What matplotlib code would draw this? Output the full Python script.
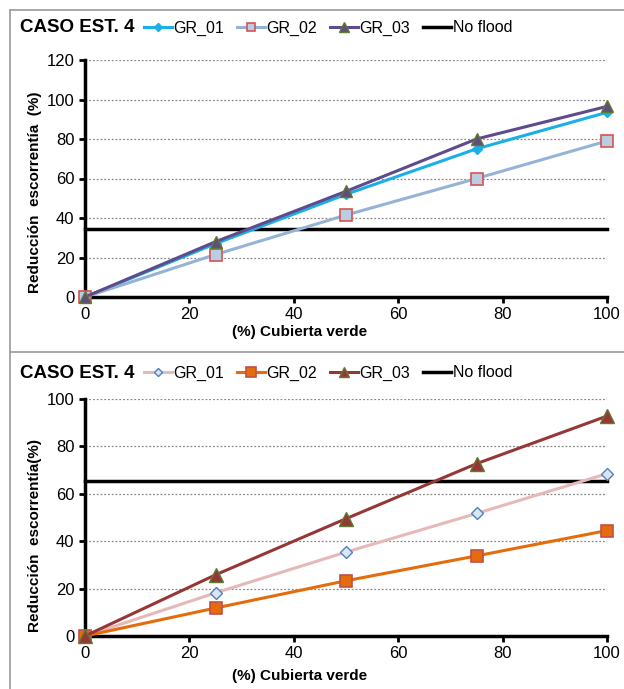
import matplotlib
matplotlib.use("Agg")
import matplotlib.pyplot as plt
from matplotlib.lines import Line2D

plt.rcParams['font.family'] = ['Liberation Sans', 'DejaVu Sans']

x = [0, 25, 50, 75, 100]
series_names = ["GR_01", "GR_02", "GR_03"]

top_gr01 = [0, 27, 52, 75, 93.5]
top_gr02 = [0, 21.5, 41.5, 60, 79]
top_gr03 = [0, 28, 53.5, 80, 96.5]
top_noflood = 34.5

bot_gr01 = [0, 18.2, 35.4, 51.7, 68.5]
bot_gr02 = [0, 11.8, 23.3, 33.8, 44.5]
bot_gr03 = [0, 25.8, 49.5, 72.7, 92.8]
bot_noflood = 65.5

title = "CASO EST. 4"
xlabel = "(%) Cubierta verde"
ylabel_top = "Reducción  escorrentía  (%)"
ylabel_bot = "Reducción  escorrentía(%)"

fig = plt.figure(figsize=(6.24, 6.89), dpi=100)

W, H = 624, 689
def fx(px): return px / W
def fy(py): return 1 - py / H

ax1 = fig.add_axes([fx(85), fy(297), fx(607) - fx(85), fy(60) - fy(297)])
ax2 = fig.add_axes([fx(85), fy(636), fx(607) - fx(85), fy(399) - fy(636)])

top_styles = [
    dict(color="#1AAFE6", marker="D", markersize=5, markerfacecolor="#1AAFE6", markeredgecolor="#1AAFE6", lw=2.2),
    dict(color="#95B3D7", marker="s", markersize=8, markerfacecolor="#B9CDE5", markeredgecolor="#D9534F", markeredgewidth=1.2, lw=2.2),
    dict(color="#5F4B8B", marker="^", markersize=9, markerfacecolor="#5E4E78", markeredgecolor="#5F7A35", markeredgewidth=1.0, lw=2.2),
]
bot_styles = [
    dict(color="#E6B9B8", marker="D", markersize=6, markerfacecolor="#DCE6F2", markeredgecolor="#4F81BD", markeredgewidth=1.0, lw=2.2),
    dict(color="#E46C0A", marker="s", markersize=9, markerfacecolor="#E46C0A", markeredgecolor="#C0504D", markeredgewidth=1.2, lw=2.2),
    dict(color="#953735", marker="^", markersize=10, markerfacecolor="#953735", markeredgecolor="#5F7A35", markeredgewidth=1.0, lw=2.2),
]

def style_ax(ax, ymax, ystep, noflood, data, styles, ylabel, ylab_center_px, xlab_px):
    handles = []
    for name, vals, st in zip(series_names, data, styles):
        h, = ax.plot(x, vals, label=name, zorder=3, **st)
        handles.append(h)
    ax.axhline(noflood, color="black", lw=2.5, zorder=2, label="No flood")
    handles.append(Line2D([], [], color="black", lw=2.5))
    ax.set_xlim(0, 100)
    ax.set_ylim(0, ymax)
    ax.set_xticks(range(0, 101, 20))
    ax.set_yticks(range(0, ymax + 1, ystep))
    ax.yaxis.grid(True, linestyle=(0, (1.5, 1.5)), color="#888888", lw=0.9)
    ax.set_axisbelow(True)
    for s in ["top", "right"]:
        ax.spines[s].set_visible(False)
    for s in ["left", "bottom"]:
        ax.spines[s].set_linewidth(2.5)
        ax.spines[s].set_color("black")
    ax.tick_params(axis="both", labelsize=12, colors="black", width=2, length=4, direction="out")
    ax.tick_params(axis="x", pad=3)
    ax.set_xlabel(xlabel, fontsize=11, fontweight="bold", va="center")
    ax.set_ylabel(ylabel, fontsize=11, fontweight="bold", va="center")
    bb = ax.get_position()
    ax.xaxis.set_label_coords((fx(300) - bb.x0) / bb.width, (fy(xlab_px) - bb.y0) / bb.height)
    ax.yaxis.set_label_coords((fx(35) - bb.x0) / bb.width, (fy(ylab_center_px) - bb.y0) / bb.height)
    for l in ax.lines:
        l.set_clip_on(False)
    return handles

h1 = style_ax(ax1, 120, 20, top_noflood, [top_gr01, top_gr02, top_gr03], top_styles, ylabel_top, 192, 332)
h2 = style_ax(ax2, 100, 20, bot_noflood, [bot_gr01, bot_gr02, bot_gr03], bot_styles, ylabel_bot, 536, 676)

labels = series_names + ["No flood"]
for hs, ytitle in [(h1, 28), (h2, 373)]:
    fig.text(fx(20), fy(ytitle), title, fontsize=13.5, fontweight="bold", va="center", ha="left")
    fig.legend(hs, labels, loc="center left", bbox_to_anchor=(fx(144), fy(ytitle)), ncol=4,
               frameon=False, fontsize=11.5, handlelength=1.75, handletextpad=0.1,
               columnspacing=0.8, borderaxespad=0, borderpad=0, markerscale=0.75)

# frame lines
gray = "#9A9A9A"
fig.add_artist(Line2D([fx(10), fx(10)], [fy(10), 0], color=gray, lw=1.2))
fig.add_artist(Line2D([fx(10), 1], [fy(10), fy(10)], color=gray, lw=1.2))
fig.add_artist(Line2D([fx(10), 1], [fy(352), fy(352)], color=gray, lw=1.2))

fig.savefig("out.png", dpi=100)
